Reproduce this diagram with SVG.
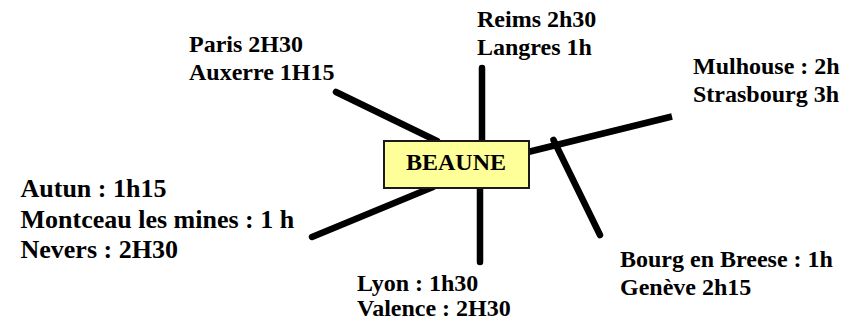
<svg xmlns="http://www.w3.org/2000/svg" width="856" height="322" viewBox="0 0 856 322">
<style>
.lbl{font-family:"Liberation Serif","Times New Roman",serif;font-weight:bold;font-size:24px;fill:#000}
.big{font-size:26px}
.road{stroke:#000;stroke-width:6.5;stroke-linecap:round;fill:none}
.butt{stroke-linecap:butt}
.node{fill:#FFFF99;stroke:#1a1a1a;stroke-width:2}
</style>
<rect width="856" height="322" fill="#fff"/>
<g id="connectors">
<line class="road" x1="336" y1="92" x2="437" y2="141"/>
<line class="road" x1="482" y1="68" x2="482" y2="141"/>
<line class="road" x1="480" y1="188" x2="480" y2="262"/>
<line class="road" x1="433" y1="187" x2="312" y2="237"/>
<line class="road butt" x1="528" y1="152" x2="672" y2="116.5"/>
<line class="road" x1="553.5" y1="140" x2="600" y2="235"/>
</g>
<g id="beaune">
<rect class="node" x="384" y="141" width="145" height="47"/>
<text class="lbl" x="456" y="170" text-anchor="middle">BEAUNE</text>
</g>
<g id="paris">
<text class="lbl" x="189" y="52">Paris 2H30</text>
<text class="lbl" x="189" y="79.5">Auxerre 1H15</text>
</g>
<g id="reims">
<text class="lbl" x="477" y="27">Reims 2h30</text>
<text class="lbl" x="477" y="55">Langres 1h</text>
</g>
<g id="mulhouse">
<text class="lbl" x="693" y="74">Mulhouse : 2h</text>
<text class="lbl" x="693" y="102">Strasbourg 3h</text>
</g>
<g id="autun">
<text class="lbl big" x="20.5" y="197">Autun : 1h15</text>
<text class="lbl big" x="20.5" y="227.5">Montceau les mines : 1 h</text>
<text class="lbl big" x="20.5" y="258">Nevers : 2H30</text>
</g>
<g id="lyon">
<text class="lbl" x="357" y="291">Lyon : 1h30</text>
<text class="lbl" x="357" y="316">Valence : 2H30</text>
</g>
<g id="bourg">
<text class="lbl" x="620" y="267">Bourg en Breese : 1h</text>
<text class="lbl" x="620" y="295">Genève 2h15</text>
</g>
</svg>
